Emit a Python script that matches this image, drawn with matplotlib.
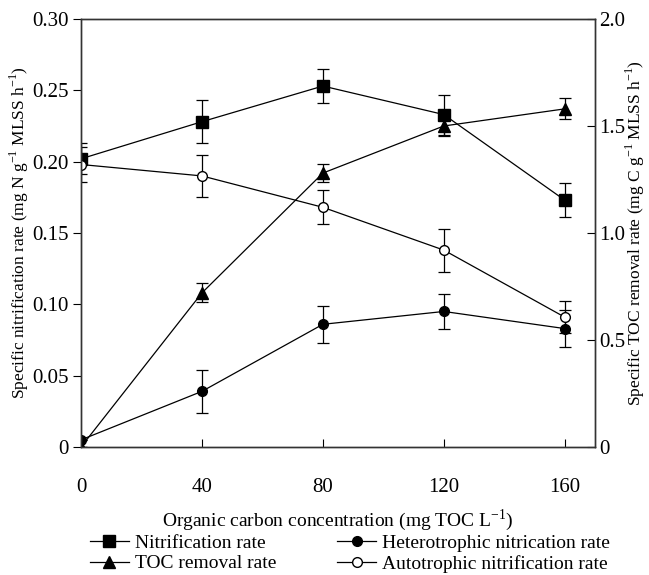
import matplotlib
matplotlib.use('agg')
import matplotlib.pyplot as plt
from matplotlib.lines import Line2D

plt.rcParams['font.family'] = ['Liberation Serif', 'DejaVu Serif']
plt.rcParams['mathtext.fontset'] = 'custom'
plt.rcParams['mathtext.rm'] = 'Liberation Serif'

# data
toc = [0, 40, 80, 120, 160]
nitrif = [0.202, 0.228, 0.253, 0.233, 0.173]
nitrif_err = [0.011, 0.015, 0.012, 0.014, 0.012]
hetero = [0.005, 0.039, 0.086, 0.095, 0.083]
hetero_err = [0.0, 0.015, 0.013, 0.012, 0.013]
auto = [0.198, 0.190, 0.168, 0.138, 0.091]
auto_err = [0.012, 0.015, 0.012, 0.015, 0.011]
toc_removal = [0.0, 0.72, 1.28, 1.50, 1.58]
toc_removal_err = [0.0, 0.044, 0.042, 0.047, 0.049]

fig = plt.figure(figsize=(6.49, 5.75), dpi=100)
ax = fig.add_axes([0.1248, 0.2226, 0.792, 0.7444])
ax2 = ax.twinx()

lw = 0.9
ekw = dict(fmt='none', ecolor='black', elinewidth=lw, capsize=4, capthick=lw)

ax.errorbar(toc, nitrif, yerr=nitrif_err, **ekw)
ax.errorbar(toc, auto, yerr=auto_err, **ekw)
ax.errorbar(toc, hetero, yerr=hetero_err, **ekw)
ax.plot(toc, nitrif, '-s', color='black', lw=lw, ms=8)
ax.plot(toc, hetero, '-o', color='black', lw=lw, ms=7)
ax.plot(toc, auto, '-o', color='black', mfc='white', lw=lw, ms=7)

ax2.errorbar(toc, toc_removal, yerr=toc_removal_err, **ekw)
ax2.plot(toc, toc_removal, '-^', color='black', lw=lw, ms=8)

ax.set_xlim(0, 170)
ax.set_ylim(0, 0.30)
ax2.set_ylim(0, 2.0)
ax.set_xticks([0, 40, 80, 120, 160])
ax.set_yticks([0, 0.05, 0.10, 0.15, 0.20, 0.25, 0.30])
ax.set_yticklabels(['0', '0.05', '0.10', '0.15', '0.20', '0.25', '0.30'])
ax2.set_yticks([0, 0.5, 1.0, 1.5, 2.0])
ax2.set_yticklabels(['0', '0.5', '1.0', '1.5', '2.0'])

ax.tick_params(axis='x', direction='in', length=6, pad=22, labelsize=15, top=False)
ax.tick_params(axis='y', direction='out', length=6, pad=3, labelsize=15)
ax2.tick_params(axis='y', direction='in', length=6, pad=3, labelsize=15)

for a in (ax, ax2):
    for s in a.spines.values():
        s.set_color('#333333')
        s.set_linewidth(1.0)

ax.set_xlabel('Organic carbon concentration (mg TOC L$^{-1}$)', fontsize=14, labelpad=8)
ax.set_ylabel('Specific nitrification rate (mg N g$^{-1}$ MLSS h$^{-1}$)', fontsize=12.5, labelpad=1)
ax2.set_ylabel('Specific TOC removal rate (mg C g$^{-1}$ MLSS h$^{-1}$)', fontsize=12.5, labelpad=-1)

handles = [
    Line2D([], [], color='black', lw=lw, marker='s', ms=8),
    Line2D([], [], color='black', lw=lw, marker='^', ms=8),
    Line2D([], [], color='black', lw=lw, marker='o', ms=7),
    Line2D([], [], color='black', lw=lw, marker='o', ms=7, mfc='white'),
]
labels = ['Nitrification rate', 'TOC removal rate',
          'Heterotrophic nitrication rate', 'Autotrophic nitrification rate']
fig.legend(handles, labels, ncol=2, frameon=False, fontsize=14,
           loc='lower left', bbox_to_anchor=(90 / 649, 0.004),
           handlelength=2.0, handletextpad=0.3, columnspacing=3.15,
           labelspacing=0.15, borderpad=0, borderaxespad=0)

fig.savefig('out.png', dpi=100)
